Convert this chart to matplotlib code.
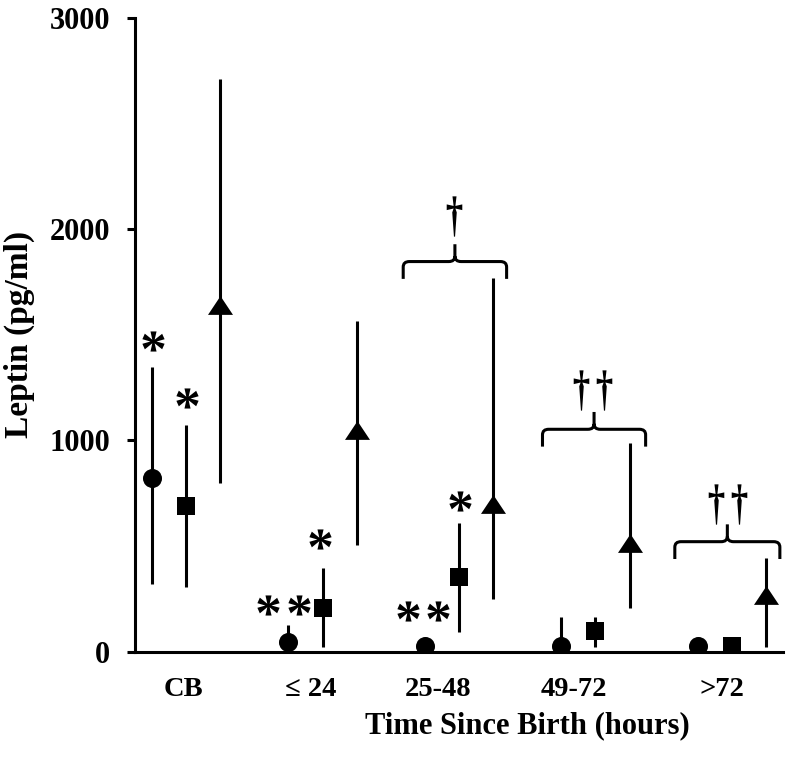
import matplotlib
matplotlib.use('Agg')

import numpy as np
import matplotlib.pyplot as plt
from matplotlib.path import Path
from matplotlib.patches import PathPatch
from matplotlib.textpath import TextPath
from matplotlib.font_manager import FontProperties

# data (leptin, pg/ml): median marker and low/high range
categories = ['CB', '\u2264 24', '25-48', '49-72', '>72']

circle_mid = [824, 47, 28, 28, 28]
circle_low = [320, 0, 20, 0, 20]
circle_high = [1350, 126, 36, 163, 36]

square_mid = [690, 208, 355, 100, 28]
square_low = [305, 24, 95, 24, 20]
square_high = [1073, 395, 611, 166, 36]

tri_mid = [1641, 1050, 699, 515, 268]
tri_low = [797, 505, 250, 205, 24]
tri_high = [2710, 1567, 1768, 987, 442]

# significance marks: (x in category units, y in pg/ml)
star_x = [0.758, 1.005, 1.597, 1.828, 1.982, 2.629, 2.848, 3.007]
star_y = [1471, 1201, 221, 221, 534, 193, 193, 714]
dagger_x = [2.963, 3.892, 4.062, 4.881, 5.051]
dagger_y = [2063, 1239, 1239, 701, 701]
# braces: centre, half width, level
brace_x = [2.97, 3.99, 4.967]
brace_half = [0.379, 0.378, 0.385]
brace_y = [1847, 1053, 521]

label_pos = [0.98, 1.91, 2.85, 3.84, 4.93]

font = 'Liberation Serif'
plt.rcParams['font.family'] = [font, 'DejaVu Serif']
plt.rcParams['font.weight'] = 'bold'

fp = FontProperties(family=font, weight='bold')


def glyph_marker(ch, xscale=1.0):
    # glyph outline as a marker, centred on its ink
    tp = TextPath((0, 0), ch, size=10, prop=fp)
    verts = np.array(tp.vertices, dtype=float)
    codes = np.array(tp.codes)
    start = 0
    for i, c in enumerate(codes):
        if c == Path.MOVETO:
            start = i
        elif c == Path.CLOSEPOLY:
            verts[i] = verts[start]
    cx = (verts[:, 0].min() + verts[:, 0].max()) / 2
    cy = (verts[:, 1].min() + verts[:, 1].max()) / 2
    verts = verts - [cx, cy]
    verts[:, 0] *= xscale
    return Path(verts, codes)


def draw_brace(ax, xc, half, y, drop=82, rise=82, rx=0.045, ry=26):
    L = xc - half
    R = xc + half
    verts = [(L, y - drop), (L, y - ry), (L, y), (L + rx, y), (xc - rx, y), (xc, y), (xc, y + ry), (xc, y + rise),
             (R, y - drop), (R, y - ry), (R, y), (R - rx, y), (xc + rx, y), (xc, y), (xc, y + ry)]
    codes = [Path.MOVETO, Path.LINETO, Path.CURVE3, Path.CURVE3, Path.LINETO, Path.CURVE3, Path.CURVE3, Path.LINETO,
             Path.MOVETO, Path.LINETO, Path.CURVE3, Path.CURVE3, Path.LINETO, Path.CURVE3, Path.CURVE3]
    ax.add_patch(PathPatch(Path(verts, codes), fill=False, lw=2.2, color='black', capstyle='butt'))


fig = plt.figure(figsize=(7.89, 7.62), dpi=100)
ax = fig.add_axes([0.1711, 0.1447, 0.8213, 0.8317])

x = [i + 1 for i in range(len(categories))]
tri_marker = Path([(-1, -0.75), (1, -0.75), (0, 0.75), (-1, -0.75)],
                  [Path.MOVETO, Path.LINETO, Path.LINETO, Path.CLOSEPOLY])

series = [
    (-0.25, circle_mid, circle_low, circle_high, 'o', 13.7),
    (0.0, square_mid, square_low, square_high, 's', 13),
    (0.25, tri_mid, tri_low, tri_high, tri_marker, 18),
]
for off, mid, low, high, mk, ms in series:
    xs = [v + off for v in x]
    err = [[m - l for m, l in zip(mid, low)], [h - m for m, h in zip(mid, high)]]
    ax.errorbar(xs, mid, yerr=err, fmt='none', ecolor='black', elinewidth=2.2, capsize=0, zorder=2)
    ax.plot(xs, mid, linestyle='none', marker=mk, ms=ms, color='black', mew=0, zorder=3)

ax.plot(star_x, star_y, linestyle='none', marker=glyph_marker('*'), ms=16, color='black', mew=0)
ax.plot(dagger_x, dagger_y, linestyle='none', marker=glyph_marker('\u2020', xscale=0.7), ms=29, color='black', mew=0)

for xc, hw, yb in zip(brace_x, brace_half, brace_y):
    draw_brace(ax, xc, hw, yb)

ax.set_xlim(0.625, 5.375)
ax.set_ylim(0, 3000)
ax.set_yticks([0, 1000, 2000, 3000])
ax.set_xticks(label_pos, categories)

for s in ['top', 'right']:
    ax.spines[s].set_visible(False)
for s in ['left', 'bottom']:
    ax.spines[s].set_linewidth(2.2)

ax.tick_params(axis='y', direction='out', length=6, width=2.2, pad=12, labelsize=22)
ax.tick_params(axis='x', length=0, pad=18, labelsize=20.5)
for lab in ax.get_xticklabels() + ax.get_yticklabels():
    lab.set_fontweight('bold')

ax.set_ylabel('Leptin (pg/ml)', fontsize=24, fontweight='bold', labelpad=10)
fig.text(0.669, 0.038, 'Time Since Birth (hours)', fontsize=22, fontweight='bold', ha='center', va='baseline')

fig.savefig('out.png', dpi=100)
